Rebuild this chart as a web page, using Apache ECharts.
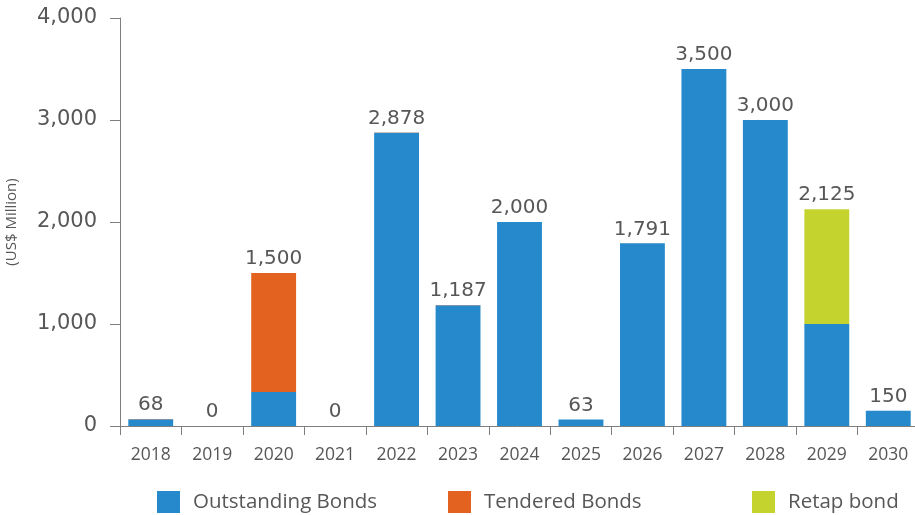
<!DOCTYPE html>
<html>
<head>
<meta charset="utf-8">
<script src="https://cdn.jsdelivr.net/npm/echarts@6/dist/echarts.min.js"></script>
<style>
  html, body { margin: 0; padding: 0; background: #ffffff; }
  #chart { width: 915px; height: 515px; }
</style>
</head>
<body>
<div id="chart"></div>
<script>
// Bond maturity profile, US$ million
const years = ['2018', '2019', '2020', '2021', '2022', '2023', '2024', '2025', '2026', '2027', '2028', '2029', '2030'];
const outstanding = [65, 0, 333, 0, 2875, 1184, 2000, 63, 1791, 3500, 3000, 1000, 150];
const tendered = [3, 0, 1167, 0, 3, 3, 0, 0, 0, 0, 0, 0, 0];
const retap = [0, 0, 0, 0, 0, 0, 0, 0, 0, 0, 0, 1125, 0];
const totals = [68, 0, 1500, 0, 2878, 1187, 2000, 63, 1791, 3500, 3000, 2125, 150];
const yTicks = [0, 1000, 2000, 3000, 4000];

const NUM_FONT = 'DejaVu Sans';
const TEXT_FONT = 'Open Sans';
const GREY = '#575757';
const AXIS = '#7f7f7f';

const fmt = v => v.toLocaleString('en-US');

const chart = echarts.init(document.getElementById('chart'), null, { renderer: 'canvas' });

const legendBase = {
  orient: 'horizontal',
  top: 491,
  padding: 0,
  itemWidth: 23,
  itemHeight: 22,
  itemGap: 0,
  icon: 'rect',
  textStyle: { fontFamily: TEXT_FONT, fontSize: 20.5, color: GREY, padding: [0, 0, 0, 8] }
};

chart.setOption({
  animation: false,
  textStyle: { fontFamily: TEXT_FONT },
  grid: { left: 120, right: -4, top: 18, bottom: 89, containLabel: false, outerBoundsMode: 'none' },
  legend: [
    Object.assign({}, legendBase, { left: 157, data: ['Outstanding Bonds'] }),
    Object.assign({}, legendBase, { left: 448, data: ['Tendered Bonds'] }),
    Object.assign({}, legendBase, { left: 752, data: ['Retap bond'] })
  ],
  xAxis: {
    type: 'category',
    data: years,
    axisLine: { lineStyle: { color: AXIS, width: 1 } },
    axisTick: { show: true, length: 9, lineStyle: { color: AXIS } },
    axisLabel: { fontFamily: TEXT_FONT, fontSize: 17.5, color: GREY, margin: 20 }
  },
  yAxis: {
    type: 'value',
    min: 0,
    max: 4000,
    interval: 1000,
    name: '(US$ Million)',
    nameLocation: 'middle',
    nameRotate: 90,
    nameGap: 101,
    nameTextStyle: { fontFamily: TEXT_FONT, fontSize: 15, color: GREY },
    splitLine: { show: false },
    axisLine: { show: true, lineStyle: { color: AXIS, width: 1 } },
    axisTick: { show: true, length: 10, lineStyle: { color: AXIS } },
    axisLabel: {
      fontFamily: NUM_FONT, fontSize: 21, color: GREY, margin: 23,
      formatter: v => yTicks.includes(v) ? fmt(v) : ''
    }
  },
  series: [
    {
      name: 'Outstanding Bonds',
      type: 'bar',
      stack: 'bonds',
      barWidth: '73%',
      itemStyle: { color: '#2589cc' },
      data: outstanding
    },
    {
      name: 'Tendered Bonds',
      type: 'bar',
      stack: 'bonds',
      itemStyle: { color: '#e3621f' },
      data: tendered
    },
    {
      name: 'Retap bond',
      type: 'bar',
      stack: 'bonds',
      itemStyle: { color: '#c4d32e' },
      data: retap
    },
    {
      // zero-height cap carrying the total label on top of each stack
      name: 'Total',
      type: 'bar',
      stack: 'bonds',
      silent: true,
      itemStyle: { color: 'transparent' },
      label: {
        show: true,
        position: 'top',
        distance: 4,
        fontFamily: NUM_FONT,
        fontSize: 20,
        color: GREY,
        formatter: p => fmt(totals[p.dataIndex])
      },
      data: totals.map(() => 0)
    }
  ]
});
</script>
</body>
</html>
